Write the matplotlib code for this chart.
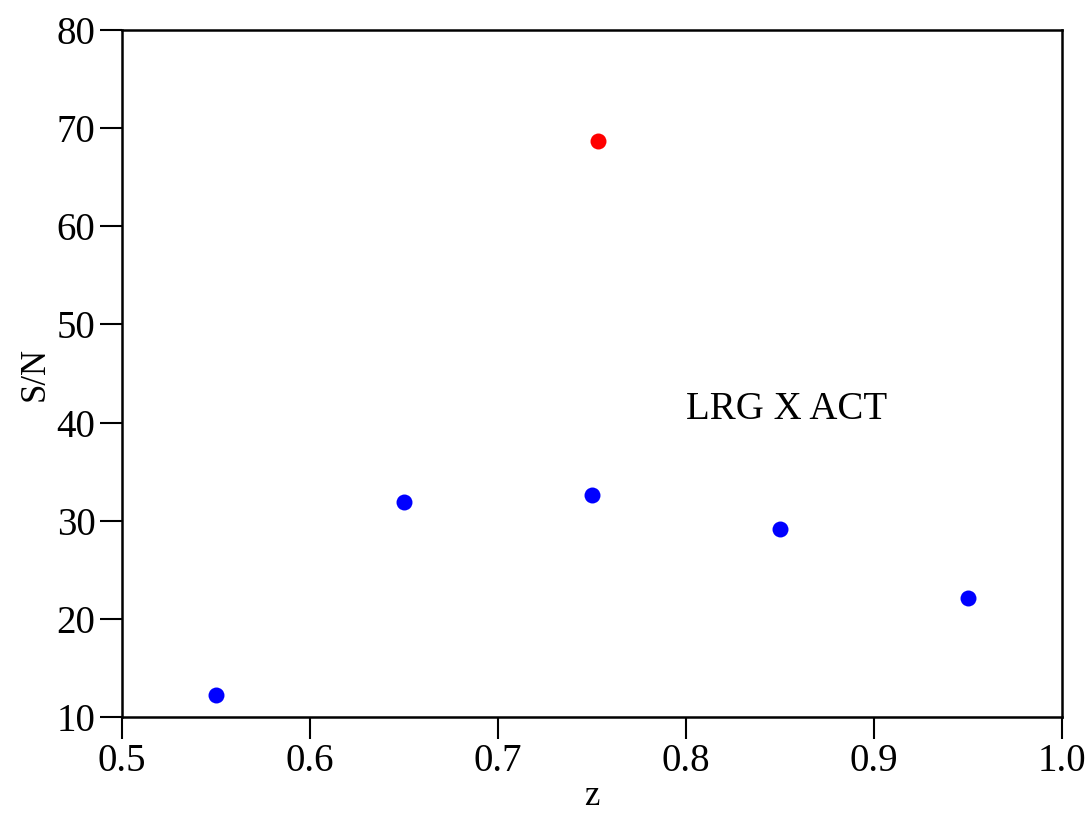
import matplotlib
matplotlib.use("Agg")
import matplotlib.pyplot as plt

z_blue = [0.55, 0.65, 0.75, 0.85, 0.95]
sn_blue = [12.2, 31.9, 32.6, 29.2, 22.1]
z_red = [0.753]
sn_red = [68.7]
xticks = [0.5, 0.6, 0.7, 0.8, 0.9, 1.0]
xticklabels = ["0.5", "0.6", "0.7", "0.8", "0.9", "1.0"]
yticks = [10, 20, 30, 40, 50, 60, 70, 80]

plt.rcParams['font.family'] = ['Liberation Serif', 'DejaVu Serif']
fig = plt.figure(figsize=(10.88, 8.13), dpi=100)
ax = fig.add_axes([122/1088, 1 - 717/813, (1062-122)/1088, (717-30)/813])

ax.plot(z_blue, sn_blue, 'o', color='#0000ff', markersize=11.5, markeredgewidth=0)
ax.plot(z_red, sn_red, 'o', color='#ff0000', markersize=11.5, markeredgewidth=0)

ax.set_xlim(0.5, 1.0)
ax.set_ylim(10, 80)
ax.set_xticks(xticks)
ax.set_xticklabels(xticklabels)
ax.set_yticks(yticks)
ax.tick_params(direction='out', length=16, width=1.5, labelsize=28, pad=3)
for s in ax.spines.values():
    s.set_linewidth(1.8)
ax.set_xlabel('z', fontsize=25, labelpad=0)
ax.set_ylabel('S/N', fontsize=25, labelpad=4)
ax.text(0.8, 41.3, 'LRG X ACT', fontsize=28, va='center', ha='left')

fig.savefig('out.png', dpi=100)
